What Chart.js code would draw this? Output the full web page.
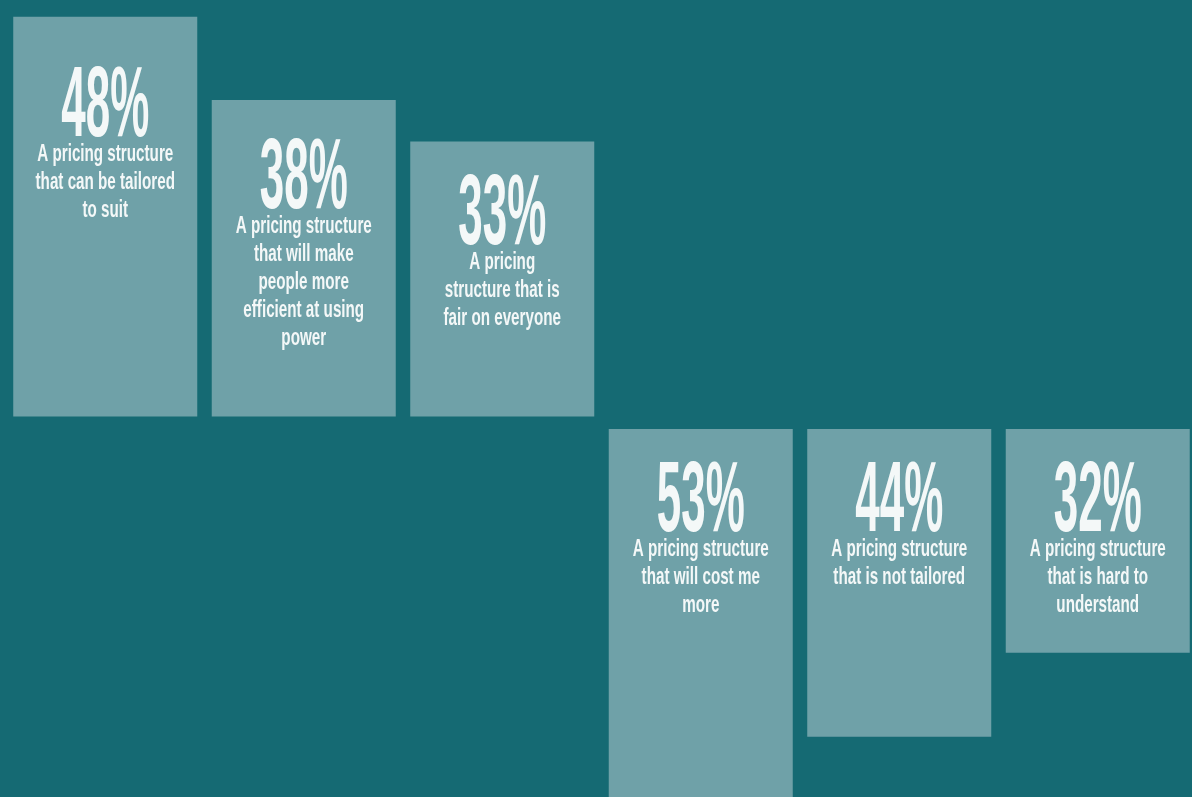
<!DOCTYPE html>
<html>
<head>
<meta charset="utf-8">
<script src="https://cdn.jsdelivr.net/npm/chart.js@4/dist/chart.umd.min.js"></script>
<style>
  html, body { margin: 0; padding: 0; background: #156a73; overflow: hidden; }
  #wrap { width: 1197px; height: 797px; }
</style>
</head>
<body>
<div id="wrap"><canvas id="chart"></canvas></div>
<script>
const categories = ["Tailored", "Efficient", "Fair", "Cost more", "Not tailored", "Hard to understand"];
const appealing = [48, 38, 33, null, null, null];
const offputting = [null, null, null, 53, 44, 32];
const descriptions = [
  ["A pricing structure", "that can be tailored", "to suit"],
  ["A pricing structure", "that will make", "people more", "efficient at using", "power"],
  ["A pricing", "structure that is", "fair on everyone"],
  ["A pricing structure", "that will cost me", "more"],
  ["A pricing structure", "that is not tailored"],
  ["A pricing structure", "that is hard to", "understand"],
];

// label placement (px below the top edge of each bar)
const numberDrop = [119, 108, 102, 102, 102, 102];

const BG = "#156a73";
const BAR = "#6fa1a8";
const INK = "#f4f8f8";

const condensedText = {
  id: "condensedText",
  afterDatasetsDraw(chart) {
    const ctx = chart.ctx;
    ctx.save();
    ctx.fillStyle = INK;
    ctx.textAlign = "left";
    ctx.textBaseline = "alphabetic";

    ctx.font = "bold 100px 'Liberation Sans', Arial, sans-serif";
    const numScale = 88 / ctx.measureText("48%").width;
    ctx.font = "bold 24px 'Liberation Sans', Arial, sans-serif";
    const txtScale = 136 / ctx.measureText("A pricing structure").width;

    chart.data.datasets.forEach((ds, di) => {
      const meta = chart.getDatasetMeta(di);
      meta.data.forEach((bar, i) => {
        const v = ds.data[i];
        if (v == null) return;
        const top = Math.min(bar.y, bar.base);
        const cx = bar.x;
        const base = top + numberDrop[i];

        const label = v + "%";
        ctx.font = "bold 100px 'Liberation Sans', Arial, sans-serif";
        let w = ctx.measureText(label).width * numScale;
        ctx.save();
        ctx.translate(cx - w / 2, base);
        ctx.scale(numScale, 1);
        ctx.fillText(label, 0, 0);
        ctx.restore();

        ctx.font = "bold 24px 'Liberation Sans', Arial, sans-serif";
        descriptions[i].forEach((line, li) => {
          w = ctx.measureText(line).width * txtScale;
          ctx.save();
          ctx.translate(cx - w / 2, base + 25 + li * 28);
          ctx.scale(txtScale, 1);
          ctx.fillText(line, 0, 0);
          ctx.restore();
        });
      });
    });
    ctx.restore();
  },
};

new Chart(document.getElementById("chart"), {
  type: "bar",
  data: {
    labels: categories,
    datasets: [
      { label: "Appealing", data: appealing, yAxisID: "yTop", backgroundColor: BAR },
      { label: "Off-putting", data: offputting, yAxisID: "yBot", backgroundColor: BAR },
    ],
  },
  options: {
    responsive: true,
    maintainAspectRatio: false,
    animation: false,
    grouped: false,
    barPercentage: 0.927,
    categoryPercentage: 1,
    layout: { padding: { left: 6, right: 0, top: 0, bottom: 0 } },
    plugins: { legend: { display: false }, tooltip: { enabled: false } },
    scales: {
      x: { display: false },
      yTop: { display: false, bounds: "data", min: -45.7, max: 50 },
      yBot: { display: false, bounds: "data", reverse: true, min: -61.3, max: 52.6 },
    },
  },
  plugins: [condensedText],
});
</script>
</body>
</html>
